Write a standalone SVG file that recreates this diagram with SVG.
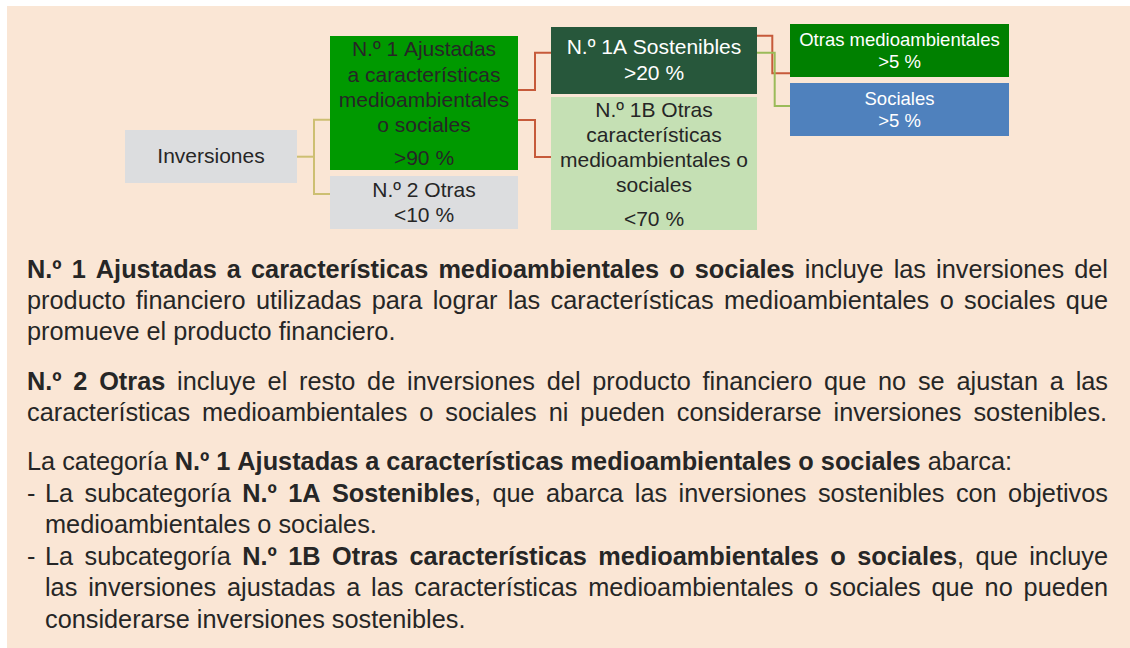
<svg xmlns="http://www.w3.org/2000/svg" width="1130" height="648" viewBox="0 0 1130 648">
<style>
text{font-family:"Liberation Sans",Arial,sans-serif;font-kerning:none}
.n{font-size:21px;fill:#262626;text-anchor:middle}
.w{fill:#ffffff}
.s{font-size:18.5px;fill:#ffffff;text-anchor:middle}
.b{font-size:25.3px;fill:#262626}
.bd{font-weight:bold}
.c{fill:none;stroke-width:2}
.tan{stroke:#CDBF72}
.red{stroke:#C65A3A}
.olv{stroke:#9BBB59}
</style>
<rect x="0" y="0" width="1130" height="648" fill="#ffffff"/>
<rect x="7" y="6" width="1123" height="642" fill="#FAE6D5"/>
<g id="connectors">
<polyline class="c tan" points="297,156.7 314,156.7"/>
<polyline class="c tan" points="330,119.7 314,119.7 314,194 330,194"/>
<polyline class="c red" points="518,90 535,90 535,52.7 551,52.7"/>
<polyline class="c red" points="518,120 535,120 535,157 551,157"/>
<polyline class="c red" points="757,35.7 772.3,35.7 772.3,73.3 790,73.3"/>
<polyline class="c olv" points="757,52.7 774.7,52.7 774.7,106 790,106"/>
</g>
<g id="inversiones">
<rect x="125" y="130" width="172" height="53" fill="#DCDDDF"/>
<text class="n" x="211" y="163.3">Inversiones</text>
</g>
<g id="n1">
<rect x="330" y="36" width="188" height="134" fill="#009900"/>
<text class="n" x="424" y="56">N.º 1 Ajustadas</text>
<text class="n" x="424" y="81.5">a características</text>
<text class="n" x="424" y="107">medioambientales</text>
<text class="n" x="424" y="132">o sociales</text>
<text class="n" x="424" y="165">&gt;90 %</text>
</g>
<g id="n2">
<rect x="330" y="176" width="188" height="53" fill="#DCDDDF"/>
<text class="n" x="424" y="196.7">N.º 2 Otras</text>
<text class="n" x="424" y="221.7">&lt;10 %</text>
</g>
<g id="n1a">
<rect x="551" y="27" width="206" height="67" fill="#27573B"/>
<text class="n w" x="654" y="54.3">N.º 1A Sostenibles</text>
<text class="n w" x="654" y="80">&gt;20 %</text>
</g>
<g id="n1b">
<rect x="551" y="97" width="206" height="133" fill="#C5E0B4"/>
<text class="n" x="654" y="116.7">N.º 1B Otras</text>
<text class="n" x="654" y="141.7">características</text>
<text class="n" x="654" y="166.7">medioambientales o</text>
<text class="n" x="654" y="191.7">sociales</text>
<text class="n" x="654" y="225.7">&lt;70 %</text>
</g>
<g id="otras-med">
<rect x="790" y="24" width="219" height="53" fill="#008000"/>
<text class="s" x="899.5" y="46">Otras medioambientales</text>
<text class="s" x="899.5" y="68.3">&gt;5 %</text>
</g>
<g id="sociales">
<rect x="790" y="83" width="219" height="53" fill="#4F81BD"/>
<text class="s" x="899.5" y="105">Sociales</text>
<text class="s" x="899.5" y="127.3">&gt;5 %</text>
</g>
<g id="texto">
<text class="b" x="27" y="278" word-spacing="3.09"><tspan class="bd">N.º 1 Ajustadas a características medioambientales o sociales</tspan> incluye las inversiones del</text>
<text class="b" x="27" y="309" word-spacing="3.35">producto financiero utilizadas para lograr las características medioambientales o sociales que</text>
<text class="b" x="27" y="340">promueve el producto financiero.</text>
<text class="b" x="27" y="390" word-spacing="4.76"><tspan class="bd">N.º 2 Otras</tspan> incluye el resto de inversiones del producto financiero que no se ajustan a las</text>
<text class="b" x="27" y="421" word-spacing="4.94">características medioambientales o sociales ni pueden considerarse inversiones sostenibles.</text>
<text class="b" x="27" y="470">La categoría <tspan class="bd">N.º 1 Ajustadas a características medioambientales o sociales</tspan> abarca:</text>
<text class="b" x="27" y="501.5">-</text>
<text class="b" x="45" y="501.5" word-spacing="4.39">La subcategoría <tspan class="bd">N.º 1A Sostenibles</tspan>, que abarca las inversiones sostenibles con objetivos</text>
<text class="b" x="45" y="533">medioambientales o sociales.</text>
<text class="b" x="27" y="564.5">-</text>
<text class="b" x="45" y="564.5" word-spacing="4.41">La subcategoría <tspan class="bd">N.º 1B Otras características medioambientales o sociales</tspan>, que incluye</text>
<text class="b" x="45" y="596" word-spacing="3.83">las inversiones ajustadas a las características medioambientales o sociales que no pueden</text>
<text class="b" x="45" y="627.5">considerarse inversiones sostenibles.</text>
</g>
</svg>
